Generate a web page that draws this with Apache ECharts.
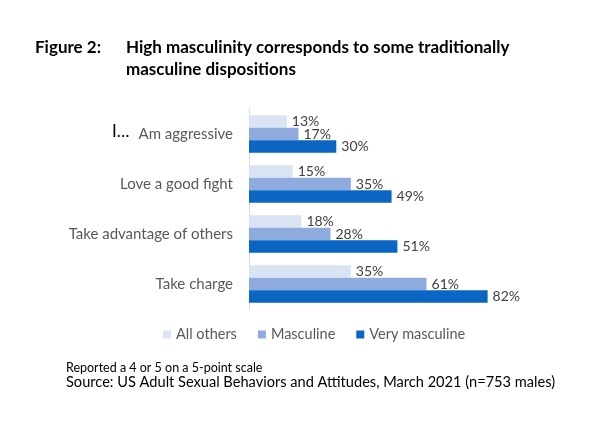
<!DOCTYPE html>
<html><head><meta charset="utf-8">
<script src="https://cdn.jsdelivr.net/npm/echarts@6/dist/echarts.min.js"></script>
<style>html,body{margin:0;padding:0;background:#fff}#c{width:606px;height:424px}</style>
</head><body><div id="c"></div>
<script>
var categories = ['Am aggressive', 'Love a good fight', 'Take advantage of others', 'Take charge'];
var allOthers = [13, 15, 18, 35];
var masculine = [17, 35, 28, 61];
var veryMasculine = [30, 49, 51, 82];
var seriesNames = ['All others', 'Masculine', 'Very masculine'];
var colors = ['#DAE3F3', '#8FAADC', '#0A66C2'];
var FONT = 'Lato';
var chart = echarts.init(document.getElementById('c'));
function mk(name, data, color) {
  return {
    name: name, type: 'bar', data: data, barWidth: 12.5, barGap: '0%',
    itemStyle: { color: color },
    label: { show: true, position: 'right', distance: 5, formatter: '{c}%', color: '#404040', fontSize: 14, fontFamily: FONT },
    silent: true
  };
}
chart.setOption({
  animation: false,
  textStyle: { fontFamily: FONT },
  grid: { left: 249, top: 109, width: 291, height: 200 },
  xAxis: { type: 'value', min: 0, max: 100, show: false },
  yAxis: {
    type: 'category', data: categories, inverse: true,
    axisTick: { show: false },
    axisLine: { lineStyle: { color: '#D9D9D9' } },
    axisLabel: { color: '#595959', fontSize: 15, margin: 16, fontFamily: FONT }
  },
  legend: {
    data: seriesNames, bottom: 77, left: 158, itemWidth: 8, itemHeight: 8, itemGap: 21,
    icon: 'rect', textStyle: { color: '#595959', fontSize: 14.5, fontFamily: FONT }
  },
  series: [mk(seriesNames[0], allOthers, colors[0]), mk(seriesNames[1], masculine, colors[1]), mk(seriesNames[2], veryMasculine, colors[2])],
  graphic: [
    { type: 'text', left: 35, top: 37, style: { text: 'Figure 2:', font: 'bold 17px Lato', fill: '#000', lineHeight: 22 } },
    { type: 'text', left: 126, top: 37, style: { text: 'High masculinity corresponds to some traditionally\nmasculine dispositions', font: 'bold 17px Lato', fill: '#000', lineHeight: 22 } },
    { type: 'text', left: 112, top: 123, style: { text: 'I…', font: '17px Lato', fill: '#000' } },
    { type: 'text', left: 66, top: 361, style: { text: 'Reported a 4 or 5 on a 5-point scale', font: '12.5px Lato', fill: '#000' } },
    { type: 'text', left: 66, top: 375, style: { text: 'Source: US Adult Sexual Behaviors and Attitudes, March 2021 (n=753 males)', font: '14.6px Lato', fill: '#000' } }
  ]
});
</script></body></html>
